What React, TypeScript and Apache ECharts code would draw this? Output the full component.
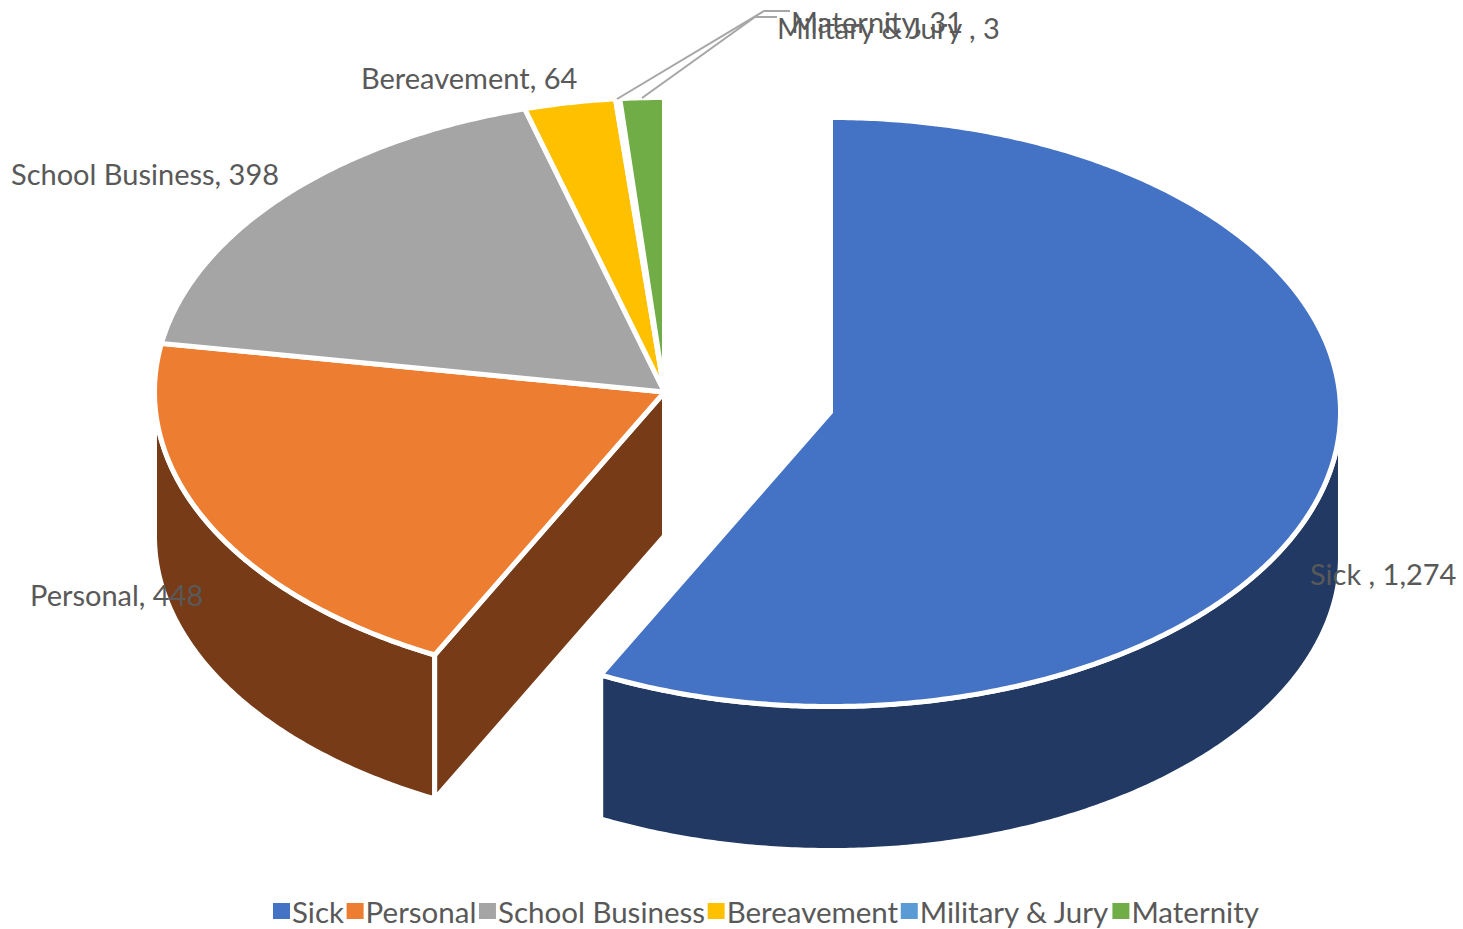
import React, { useEffect, useRef } from "react";
import * as echarts from "echarts";

const categories = ["Sick", "Personal", "School Business", "Bereavement", "Military & Jury", "Maternity"];
const values = [1274, 448, 398, 64, 3, 31];
const labelTexts = ["Sick , 1,274", "Personal, 448", "School Business, 398", "Bereavement, 64", "Military & Jury , 3", "Maternity, 31"];
const topColors = ["#4472C4", "#ED7D31", "#A5A5A5", "#FFC000", "#5B9BD5", "#70AD47"];
const sideColors = ["#213963", "#773B17", "#636363", "#997300", "#2E75B6", "#43682B"];
const labelAnchors: [number, number][] = [[1310, 573], [30, 594], [11, 173], [361, 77], [777, 27], [791, 21]];

const FONT = "Lato, Carlito, sans-serif";
const RX = 510;
const RY = 294.5;
const DEPTH = 144;
const CENTER_REST: [number, number] = [664.5, 392];
const CENTER_EXPLODED: [number, number] = [830.5, 412];
const total = values.reduce((a, b) => a + b, 0);

const pt = (c: [number, number], deg: number, dy = 0): number[] => {
  const r = (deg * Math.PI) / 180;
  return [c[0] + RX * Math.sin(r), c[1] - RY * Math.cos(r) + dy];
};
const arc = (c: [number, number], a: number, b: number, dy = 0): number[][] => {
  const n = Math.max(2, Math.ceil(Math.abs(b - a) * 2));
  const out: number[][] = [];
  for (let i = 0; i <= n; i++) out.push(pt(c, a + ((b - a) * i) / n, dy));
  return out;
};

function renderSlice(index: number) {
  return (_params: any, api: any) => {
    const value = api.value(0) as number;
    const before = values.slice(0, index).reduce((a, b) => a + b, 0);
    const start = (before / total) * 360;
    const end = start + (value / total) * 360;
    const c = index === 0 ? CENTER_EXPLODED : CENTER_REST;
    const stroke = { stroke: "#FFFFFF", lineWidth: 5, lineJoin: "miter" };
    const children: any[] = [];
    const poly = (points: number[][], fill: string) =>
      children.push({ type: "polygon", shape: { points }, style: { fill, ...stroke } });

    const wa = Math.max(start, 90);
    const wb = Math.min(end, 270);
    if (wb > wa) {
      poly([...arc(c, wa, wb), ...arc(c, wb, wa, DEPTH)], sideColors[index]);
    }
    if (start > 180 && start < 270) {
      const p = pt(c, start);
      const q = pt(c, start, DEPTH);
      poly([c, p, q, [c[0], c[1] + DEPTH]], sideColors[index]);
    }
    poly([c, ...arc(c, start, end)], topColors[index]);
    return { type: "group", children };
  };
}

function renderLabel(index: number) {
  return () => ({
    type: "text",
    style: {
      text: labelTexts[index],
      x: labelAnchors[index][0],
      y: labelAnchors[index][1],
      fill: "#595959",
      font: `29px ${FONT}`,
      textAlign: "left",
      textVerticalAlign: "middle",
    },
  });
}

export default function App() {
  const ref = useRef<HTMLDivElement>(null);
  useEffect(() => {
    document.body.style.margin = "0";
    const chart = echarts.init(ref.current!, undefined, { renderer: "svg" });
    chart.setOption({
      animation: false,
      backgroundColor: "#FFFFFF",
      legend: {
        data: categories,
        left: 268,
        top: 891,
        itemGap: 2.6,
        itemWidth: 17,
        itemHeight: 16,
        icon: "rect",
        selectedMode: false,
        textStyle: { fontFamily: FONT, fontSize: 29.5, lineHeight: 29, color: "#595959", padding: [0, 0, 0, -3] },
      },
      series: [
        ...categories.map((name, i) => ({
          type: "custom",
          name,
          coordinateSystem: "none",
          silent: true,
          z: 2,
          itemStyle: { color: topColors[i] },
          data: [values[i]],
          renderItem: renderSlice(i),
        })),
        ...categories.map((name, i) => ({
          type: "custom",
          name: `${name} label`,
          coordinateSystem: "none",
          silent: true,
          z: 4,
          data: [values[i]],
          renderItem: renderLabel(i),
        })),
        {
          type: "custom",
          name: "leader lines",
          coordinateSystem: "none",
          silent: true,
          z: 3,
          data: [0],
          renderItem: () => ({
            type: "group",
            children: [
              [[617, 99], [764, 11], [790, 11]],
              [[642, 98], [755, 17], [777, 17]],
            ].map((points) => ({
              type: "polyline",
              shape: { points },
              style: { stroke: "#A6A6A6", lineWidth: 2, fill: "none" },
            })),
          }),
        },
      ],
    });
    return () => chart.dispose();
  }, []);
  return <div ref={ref} style={{ width: 1463, height: 929 }} />;
}
